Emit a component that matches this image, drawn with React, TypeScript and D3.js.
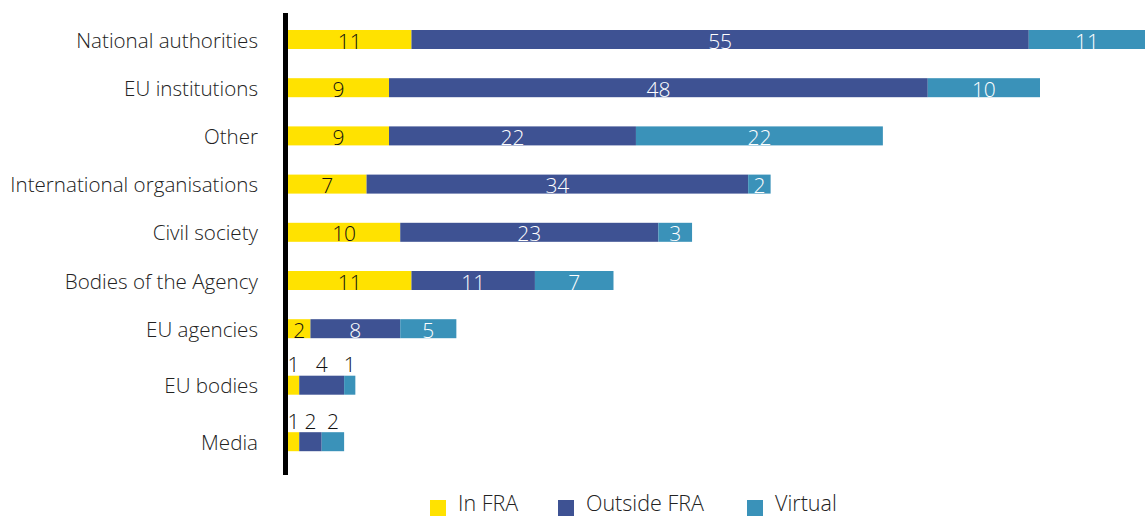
import React from 'react';
import * as d3 from 'd3';

const categories = [
  'National authorities',
  'EU institutions',
  'Other',
  'International organisations',
  'Civil society',
  'Bodies of the Agency',
  'EU agencies',
  'EU bodies',
  'Media',
];
const inFRA = [11, 9, 9, 7, 10, 11, 2, 1, 1];
const outsideFRA = [55, 48, 22, 34, 23, 11, 8, 4, 2];
const virtual = [11, 10, 22, 2, 3, 7, 5, 1, 2];
const seriesNames = ['In FRA', 'Outside FRA', 'Virtual'];
const seriesColors = ['#FFE200', '#3E5293', '#3A92B9'];
const labelColors = ['#111111', '#ffffff', '#ffffff'];

const W = 1145;
const H = 517;
const FONT = "'Open Sans', 'Noto Sans', sans-serif";

export default function App() {
  const x = d3.scaleLinear().domain([0, 67]).range([288, 1040]);
  const seriesValues = [inFRA, outsideFRA, virtual];
  const rows = categories.map((c, i) => {
    const values = seriesValues.map((s) => s[i]);
    const stack = d3.cumsum([0, ...values]);
    return { c, values, stack: Array.from(stack) };
  });
  // rows with segments too narrow for an inner label get labels above, and extra room
  const outside = rows.map((r) => d3.min(r.values, (v) => x(v) - x(0))! < 15);
  const centers: number[] = [];
  outside.forEach((o, i) => {
    centers.push(i === 0 ? 39.5 : centers[i - 1] + (o ? 56.5 : 48.2));
  });
  const barH = 19;

  const legendX = [430, 558, 747];

  return (
    <svg
      width={W}
      height={H}
      style={{ position: 'absolute', left: 0, top: 0, background: '#fff' }}
      fontFamily={FONT}
    >
      {rows.map((r, i) => {
        const cy = centers[i];
        return (
          <g key={r.c}>
            <text
              x={258}
              y={cy}
              textAnchor="end"
              dominantBaseline="central"
              fontSize={20.6}
              fontWeight={300}
              fill="#222"
            >
              {r.c}
            </text>
            {r.values.map((v, j) => {
              const x0 = x(r.stack[j]);
              const x1 = x(r.stack[j + 1]);
              return (
                <g key={j}>
                  <rect x={x0} y={cy - barH / 2} width={x1 - x0} height={barH} fill={seriesColors[j]} />
                  {outside[i] ? (
                    <text
                      x={(x0 + x1) / 2}
                      y={cy - barH / 2 - 3.5}
                      textAnchor="middle"
                      fontSize={21}
                      fontWeight={300}
                      fill="#111"
                    >
                      {v}
                    </text>
                  ) : (
                    <text
                      x={(x0 + Math.min(x1, W)) / 2}
                      y={cy + 1}
                      textAnchor="middle"
                      dominantBaseline="central"
                      fontSize={21}
                      fontWeight={300}
                      fill={labelColors[j]}
                    >
                      {v}
                    </text>
                  )}
                </g>
              );
            })}
          </g>
        );
      })}
      <rect x={283} y={13} width={5} height={462} fill="#000" />
      {seriesNames.map((n, j) => (
        <g key={n}>
          <rect x={legendX[j]} y={500} width={16} height={16} fill={seriesColors[j]} />
          <text x={legendX[j] + 28} y={511} fontSize={21.5} fontWeight={300} fill="#222">
            {n}
          </text>
        </g>
      ))}
    </svg>
  );
}
